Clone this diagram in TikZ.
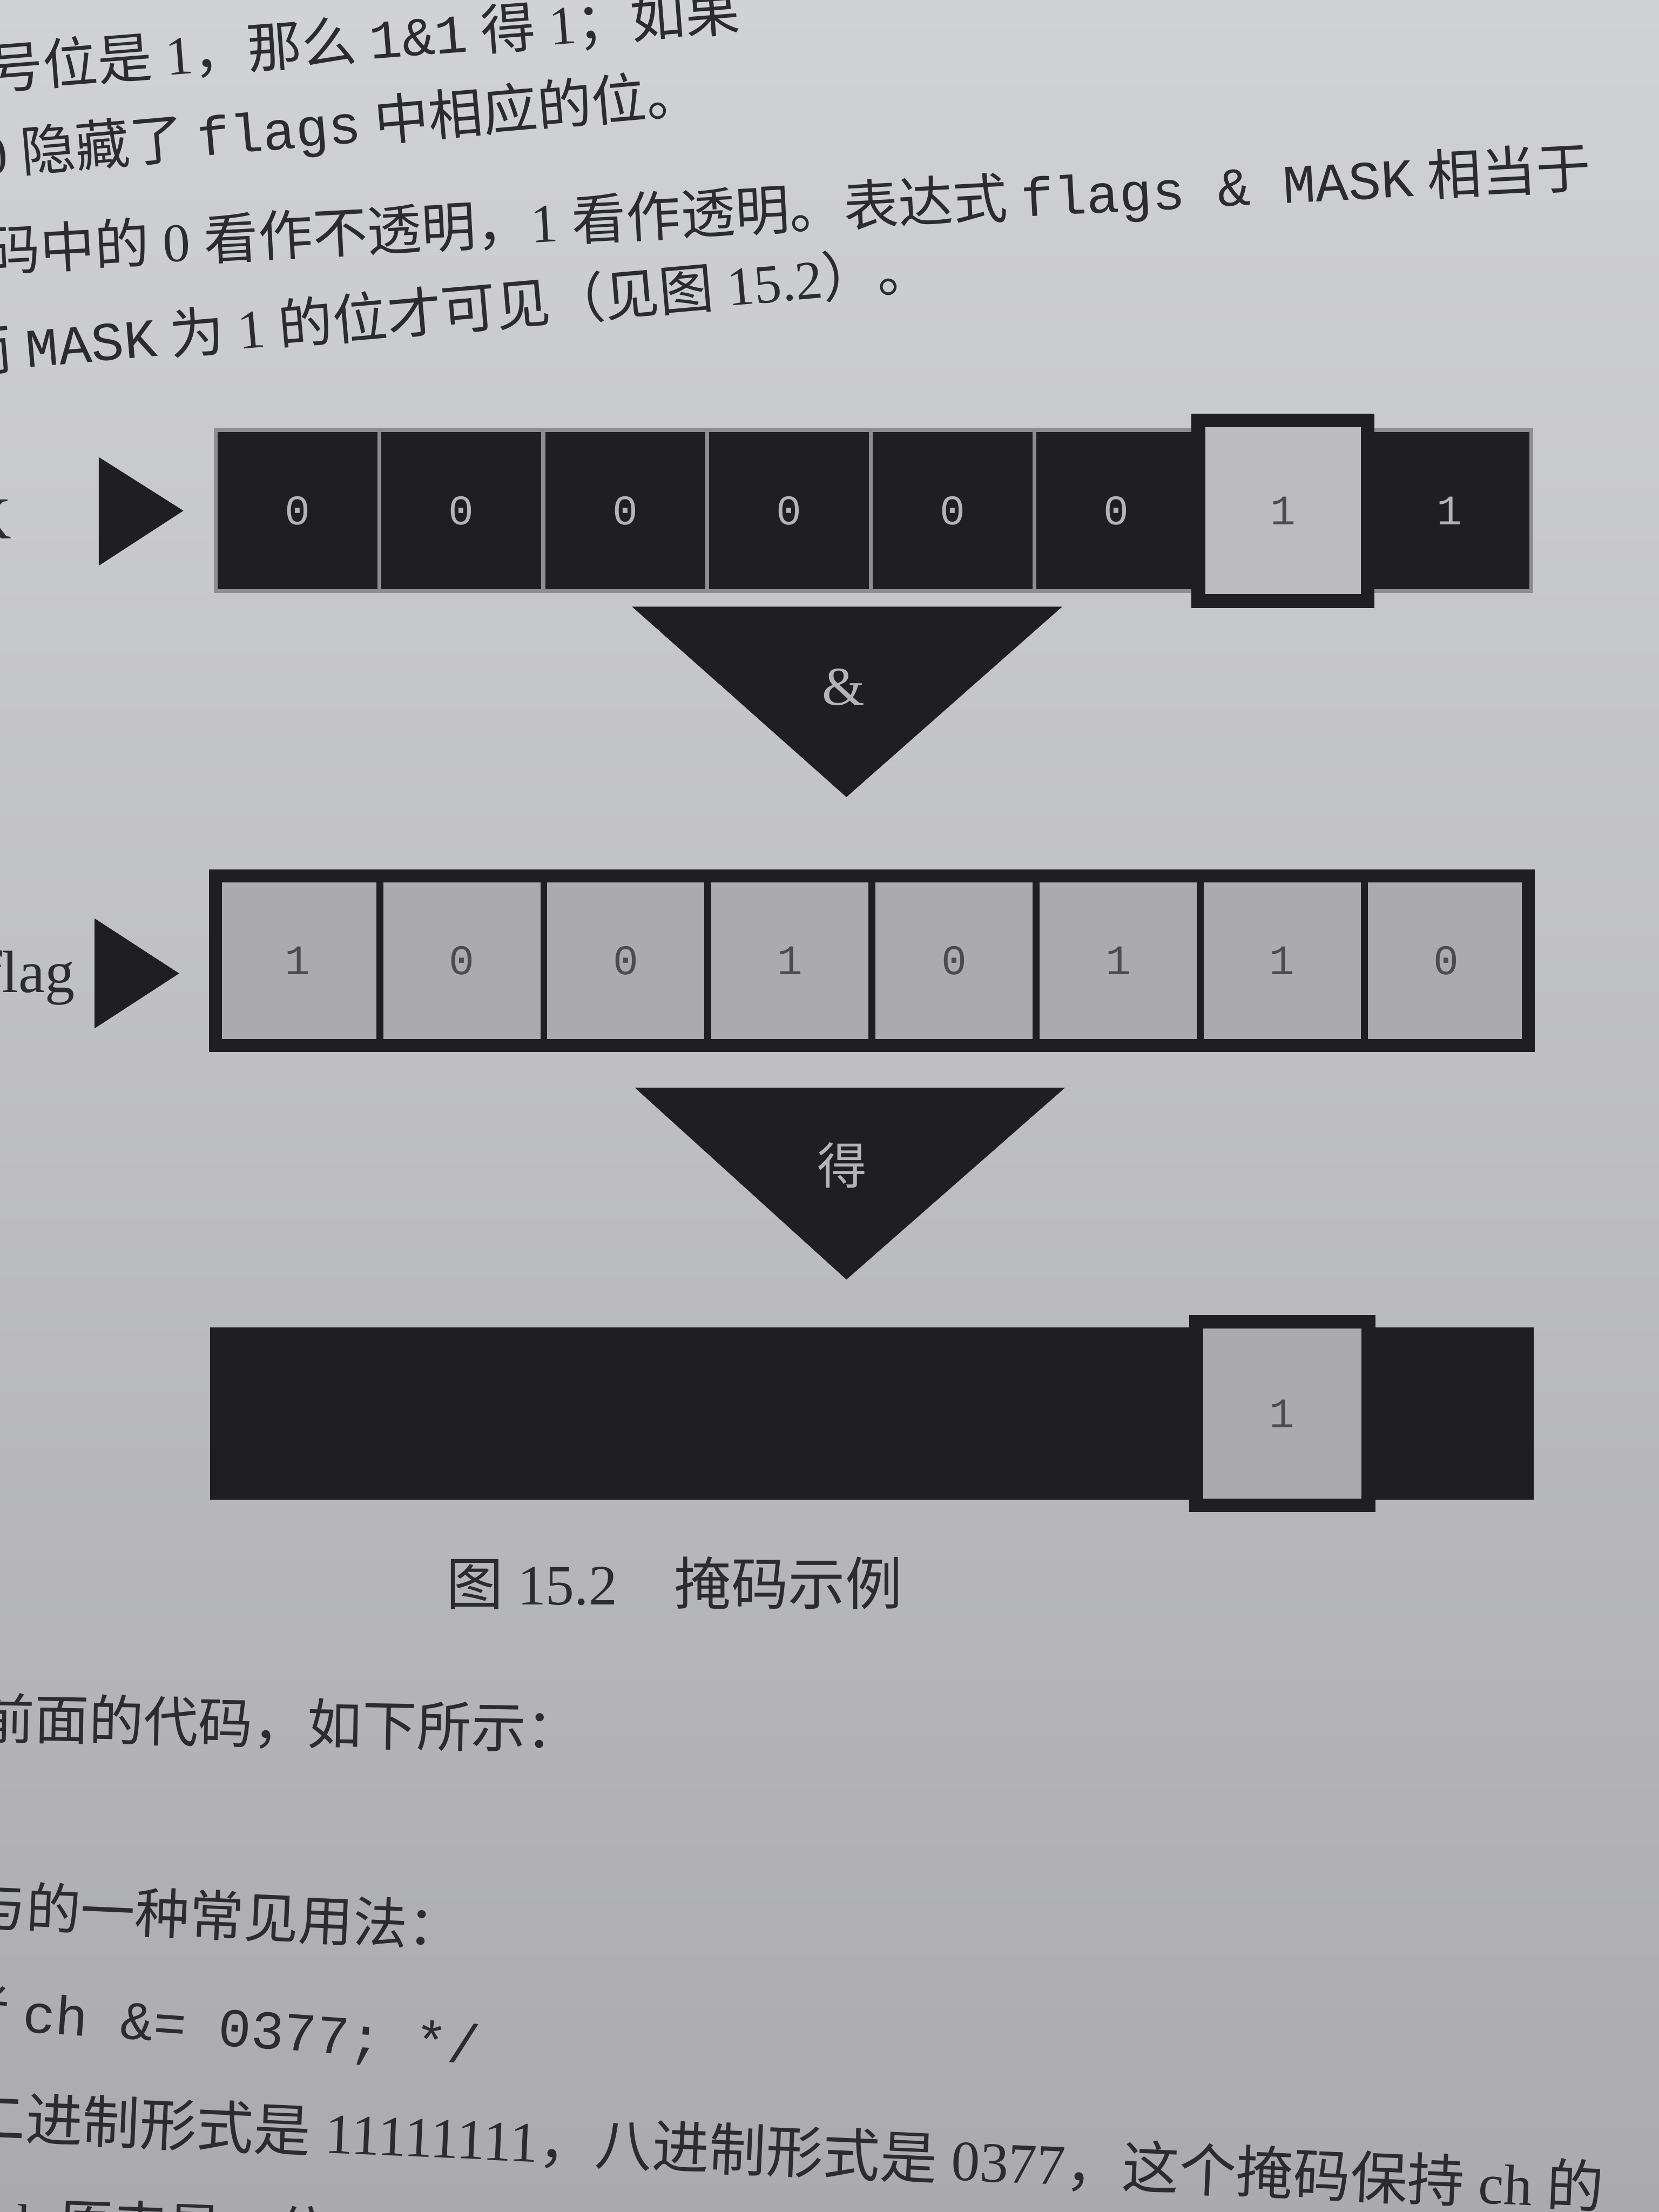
\documentclass[tikz,border=0pt]{standalone}
\usepackage{fontspec}
\setmainfont{Liberation Serif}
\setmonofont{Liberation Mono}
\newfontfamily\zhfont{Noto Sans CJK SC}
\newcommand{\zh}[1]{{\zhfont #1}}
\usetikzlibrary{positioning}

\definecolor{pagetop}{HTML}{D1D2D4}
\definecolor{pagebot}{HTML}{ABABAD}
\definecolor{ink}{HTML}{1F1F21}
\definecolor{sepgray}{HTML}{8E8E90}
\definecolor{cellgray}{HTML}{ABABAD}
\definecolor{maskgray}{HTML}{BCBCBE}
\definecolor{digitlight}{HTML}{B4B4B6}
\definecolor{textgray}{HTML}{2C2C2E}

\begin{document}
\begin{tikzpicture}[
    x=0.01cm, y=-0.01cm,
    node distance=0pt,
    every node/.style={inner sep=0pt, outer sep=0pt},
    bitfont/.style={font=\ttfamily\fontsize{8.5}{10}\selectfont},
    darkcell/.style={
        rectangle,
        bitfont,
        fill=ink,
        draw=sepgray,
        line width=0.8pt,
        text=digitlight,
        minimum width=1.16cm,
        minimum height=1.14cm
    },
    opencell/.style={
        rectangle,
        bitfont,
        fill=maskgray,
        text=ink!80,
        minimum width=1.2cm,
        minimum height=1.28cm
    },
    flagcell/.style={
        rectangle,
        bitfont,
        fill=cellgray,
        draw=ink,
        line width=1.4pt,
        text=ink!80,
        minimum width=1.1625cm,
        minimum height=1.2cm
    },
    oplabel/.style={text=digitlight},
    rowlabel/.style={anchor=east, text=textgray, font=\fontsize{12}{14}\selectfont},
    bodytext/.style={anchor=west, text=textgray, font=\fontsize{11}{13}\selectfont}
]

\useasboundingbox (0,0) rectangle (1176,1568);
\shade[top color=pagetop, bottom color=pagebot] (0,0) rectangle (1176,1568);

% running text above the figure
\node[bodytext, rotate=4.5] (line1) at (-8,50)
    {\zh{号位是}~1\zh{，那么}~\texttt{1\&1}~\zh{得}~1\zh{；如果}};
\node[bodytext, rotate=5] (line2) at (-14,112)
    {0~\zh{隐藏了}~\texttt{flags}~\zh{中相应的位。}};
\node[bodytext, rotate=3] (line3) at (-10,180)
    {\zh{码中的}~0~\zh{看作不透明，}1~\zh{看作透明。表达式}~\texttt{flags \& MASK}~\zh{相当于}};
\node[bodytext, rotate=5] (line4) at (-30,250)
    {\zh{而}~\texttt{MASK}~\zh{为}~1~\zh{的位才可见（见图}~15.2\zh{）。}};

% MASK row
\fill[ink] (70,324) -- (130,362) -- (70,401) -- cycle;
\node[rowlabel] (masklbl) at (8,368) {MASK};
\node[darkcell] (m1) at (211,362) {0};
\node[darkcell, right=of m1] (m2) {0};
\node[darkcell, right=of m2] (m3) {0};
\node[darkcell, right=of m3] (m4) {0};
\node[darkcell, right=of m4] (m5) {0};
\node[darkcell, right=of m5] (m6) {0};
\node[opencell, right=of m6] (m7) {1};
\node[darkcell, right=of m7] (m8) {1};
\draw[ink, line width=2.8pt] (m7.north west) rectangle (m7.south east);

% & operator
\fill[ink] (448,430) -- (753,430) -- (600,565) -- cycle;
\node[oplabel, font=\fontsize{11}{11}\selectfont] (andop) at (598,487) {\&};

% flag row
\fill[ink] (67,651) -- (127,690) -- (67,729) -- cycle;
\node[rowlabel] (flaglbl) at (53,693) {flag};
\node[flagcell] (f1) at (211,681) {1};
\node[flagcell, right=of f1] (f2) {0};
\node[flagcell, right=of f2] (f3) {0};
\node[flagcell, right=of f3] (f4) {1};
\node[flagcell, right=of f4] (f5) {0};
\node[flagcell, right=of f5] (f6) {1};
\node[flagcell, right=of f6] (f7) {1};
\node[flagcell, right=of f7] (f8) {0};
\draw[ink, line width=2.6pt] (f1.north west) rectangle (f8.south east);

% result operator
\fill[ink] (450,771) -- (755,771) -- (600,907) -- cycle;
\node[oplabel, font=\zhfont\fontsize{10}{10}\selectfont] (getop) at (597,826) {得};

% result row
\node[rectangle, fill=ink, minimum width=9.38cm, minimum height=1.22cm] (res) at (618,1002) {};
\node[opencell, fill=cellgray, minimum width=1.22cm, minimum height=1.3cm] (rbit) at (f7 |- res) {1};
\draw[ink, line width=2.8pt] (rbit.north west) rectangle (rbit.south east);

% caption
\node[text=textgray, font=\fontsize{11.5}{13}\selectfont] (caption) at (478,1122)
    {\zh{图}~15.2\hspace{1em}\zh{掩码示例}};

% running text below the figure
\node[bodytext, rotate=-1] (line5) at (-14,1218) {\zh{前面的代码，如下所示：}};
\node[bodytext, rotate=-2.5] (line6) at (-20,1350) {\zh{与的一种常见用法：}};
\node[bodytext, rotate=-4] (line7) at (-32,1424) {\zh{者}~\texttt{ch \&= 0377; */}};
\node[bodytext, rotate=-2.5, font=\fontsize{11.5}{13}\selectfont] (line8) at (-22,1500)
    {\zh{二进制形式是}~11111111\zh{，八进制形式是}~0377\zh{，这个掩码保持}~ch~\zh{的}};
\node[bodytext, rotate=-2] (line9) at (-5,1574) {ch~\zh{原来是}~8~\zh{位}};

\end{tikzpicture}
\end{document}
